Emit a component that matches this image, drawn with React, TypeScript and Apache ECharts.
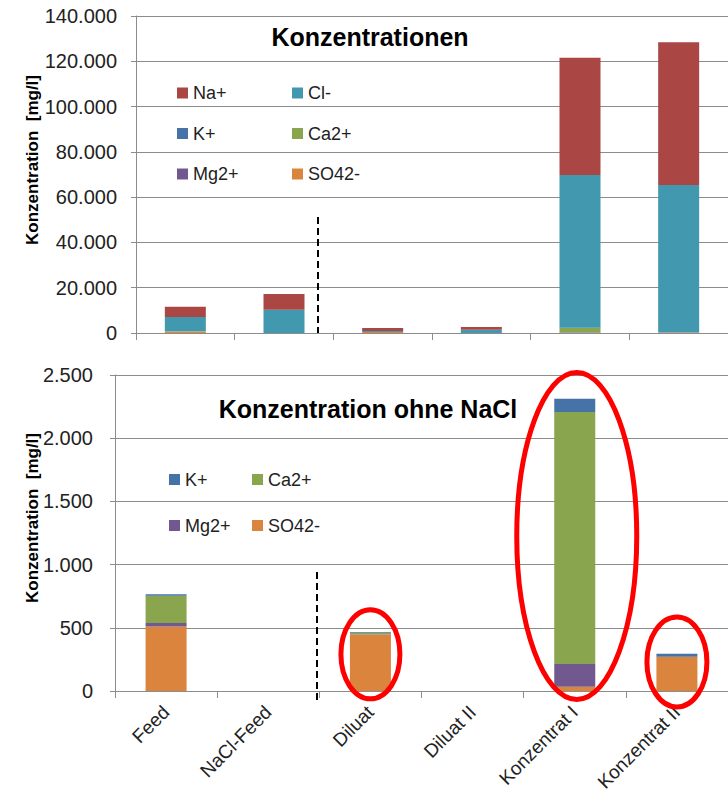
import React, { useEffect, useRef } from 'react';
import * as echarts from 'echarts';

const categories = ['Feed', 'NaCl-Feed', 'Diluat', 'Diluat II', 'Konzentrat I', 'Konzentrat II'];
const naPlus = [4550, 6900, 1300, 1200, 51700, 63000];
const clMinus = [6300, 10300, 450, 1450, 67500, 65100];
const kPlus = [12, 0, 6, 0, 106, 24];
const ca2Plus = [215, 0, 10, 0, 1993, 0];
const mg2Plus = [28, 0, 2, 0, 180, 0];
const so42Minus = [510, 0, 447, 0, 34, 271];

const topTicks = { min: 0, max: 140000, interval: 20000 };
const bottomTicks = { min: 0, max: 2500, interval: 500 };

const FONT = '"Liberation Sans", Arial, sans-serif';
const GRID_COLOR = '#8c8c8c';

const fmt = (v: number) => String(v).replace(/\B(?=(\d{3})+(?!\d))/g, '.');

const ions = [
  { name: 'SO42-', data: so42Minus, color: '#DB843D', inBottom: true },
  { name: 'Mg2+', data: mg2Plus, color: '#71588F', inBottom: true },
  { name: 'Ca2+', data: ca2Plus, color: '#89A54E', inBottom: true },
  { name: 'K+', data: kPlus, color: '#4572A7', inBottom: true },
  { name: 'Cl-', data: clMinus, color: '#4198AF', inBottom: false },
  { name: 'Na+', data: naPlus, color: '#AA4643', inBottom: false },
];

export default function App() {
  const ref = useRef<HTMLDivElement>(null);
  useEffect(() => {
    document.body.style.margin = '0';
    const chart = echarts.init(ref.current!, null, { renderer: 'svg' });

    const yAxisCommon = (ticks: any, margin: number) => ({
      type: 'value',
      ...ticks,
      axisLine: { show: true, lineStyle: { color: GRID_COLOR, width: 1 } },
      axisTick: { show: true, length: 5, lineStyle: { color: GRID_COLOR } },
      splitLine: { show: true, lineStyle: { color: GRID_COLOR, width: 1 } },
      axisLabel: { fontFamily: FONT, fontSize: 20, color: '#222', margin, formatter: (v: number) => fmt(v) },
    });

    const series: any[] = [];
    ions.forEach((ion) => {
      series.push({
        type: 'bar', name: ion.name, data: ion.data, stack: 'top',
        xAxisIndex: 0, yAxisIndex: 0, barWidth: 41,
        itemStyle: { color: ion.color }, emphasis: { disabled: true },
      });
    });
    ions.filter((i) => i.inBottom).forEach((ion) => {
      series.push({
        type: 'bar', name: ion.name, data: ion.data, stack: 'bottom',
        xAxisIndex: 1, yAxisIndex: 1, barWidth: 41,
        itemStyle: { color: ion.color }, emphasis: { disabled: true },
      });
    });

    const legendCommon = {
      orient: 'vertical', icon: 'rect', itemWidth: 11, itemHeight: 11, padding: 0,
      selectedMode: false,
      textStyle: { fontFamily: FONT, fontSize: 18, color: '#222', lineHeight: 17 },
    };

    chart.setOption({
      animation: false,
      grid: [
        { left: 136, top: 16, width: 597, height: 317 },
        { left: 115, top: 375, width: 617, height: 316 },
      ],
      xAxis: [
        {
          type: 'category', data: categories, gridIndex: 0,
          axisLine: { lineStyle: { color: GRID_COLOR } },
          axisTick: { show: true, length: 7, interval: 0, lineStyle: { color: GRID_COLOR } },
          axisLabel: { show: false },
        },
        {
          type: 'category', data: categories, gridIndex: 1,
          axisLine: { lineStyle: { color: GRID_COLOR } },
          axisTick: { show: true, length: 7, interval: 0, lineStyle: { color: GRID_COLOR } },
          axisLabel: { show: true, interval: 0, rotate: 45, margin: 18, fontFamily: FONT, fontSize: 19, color: '#222' },
        },
      ],
      yAxis: [
        { ...yAxisCommon(topTicks, 19), gridIndex: 0 },
        { ...yAxisCommon(bottomTicks, 22), gridIndex: 1 },
      ],
      legend: [
        { ...legendCommon, left: 177, top: 84, itemGap: 22.5, data: ['Na+', 'K+', 'Mg2+'] },
        { ...legendCommon, left: 292, top: 84, itemGap: 22.5, data: ['Cl-', 'Ca2+', 'SO42-'] },
        { ...legendCommon, left: 169, top: 470.5, itemGap: 28, data: ['K+', 'Mg2+'] },
        { ...legendCommon, left: 252, top: 470.5, itemGap: 28, data: ['Ca2+', 'SO42-'] },
      ],
      series,
    });

    const p = (cat: string, val: number) => chart.convertToPixel({ gridIndex: 1 }, [cat, val]) as number[];
    const e1 = p('Diluat', 290);
    const e2 = p('Konzentrat I', 1226);
    const e3 = p('Konzentrat II', 230);
    const ellipseStyle = { fill: 'none', stroke: '#FF0000', lineWidth: 5 };
    const dashStyle = { stroke: '#000', lineWidth: 2, lineDash: [7, 4] };

    chart.setOption({
      graphic: [
        { type: 'text', x: 370, y: 37, z: 10, style: { text: 'Konzentrationen', fontFamily: FONT, fontWeight: 'bold', fontSize: 25, fill: '#000', textAlign: 'center', textVerticalAlign: 'middle' } },
        { type: 'text', x: 368, y: 409, z: 10, style: { text: 'Konzentration ohne NaCl', fontFamily: FONT, fontWeight: 'bold', fontSize: 25, fill: '#000', textAlign: 'center', textVerticalAlign: 'middle' } },
        { type: 'text', x: 32, y: 160, rotation: Math.PI / 2, z: 10, style: { text: 'Konzentration  [mg/l]', fontFamily: FONT, fontWeight: 'bold', fontSize: 17, fill: '#000', textAlign: 'center', textVerticalAlign: 'middle' } },
        { type: 'text', x: 32, y: 518, rotation: Math.PI / 2, z: 10, style: { text: 'Konzentration  [mg/l]', fontFamily: FONT, fontWeight: 'bold', fontSize: 17, fill: '#000', textAlign: 'center', textVerticalAlign: 'middle' } },
        { type: 'line', z: 10, shape: { x1: 318, y1: 217, x2: 318, y2: 333 }, style: dashStyle },
        { type: 'line', z: 10, shape: { x1: 317, y1: 572, x2: 317, y2: 700 }, style: dashStyle },
        { type: 'ellipse', z: 20, shape: { cx: e1[0], cy: e1[1], rx: 29.5, ry: 44.5 }, style: ellipseStyle },
        { type: 'ellipse', z: 20, shape: { cx: e2[0] + 2, cy: e2[1], rx: 60, ry: 163.5 }, style: ellipseStyle },
        { type: 'ellipse', z: 20, shape: { cx: e3[0], cy: e3[1], rx: 30, ry: 45 }, style: ellipseStyle },
      ],
    });

    return () => chart.dispose();
  }, []);
  return <div ref={ref} style={{ width: 728, height: 796 }} />;
}
